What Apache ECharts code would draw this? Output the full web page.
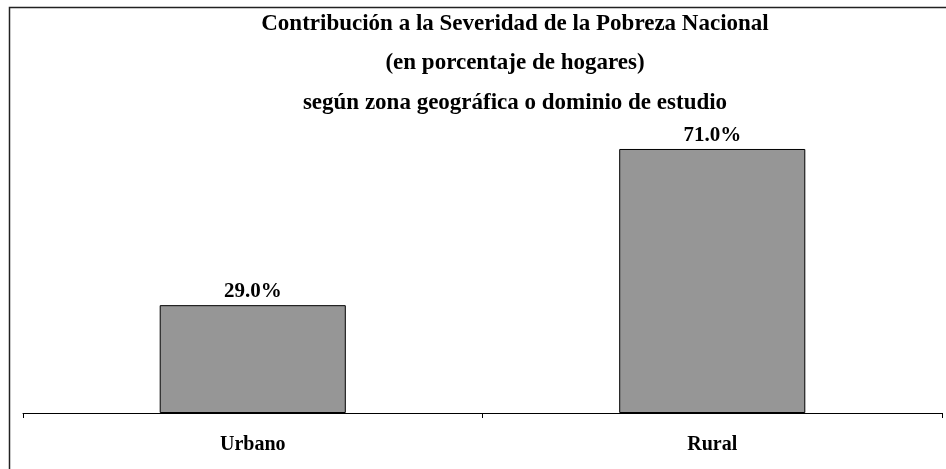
<!DOCTYPE html>
<html>
<head>
<meta charset="utf-8">
<script src="https://cdn.jsdelivr.net/npm/echarts@6/dist/echarts.min.js"></script>
<style>
  html, body {margin: 0; padding: 0; background: #fff;}
  #chart {width: 946px; height: 469px;}
</style>
</head>
<body>
<div id="chart"></div>
<script>
// datos
const categorias = ['Urbano', 'Rural'];
const valores = [29.0, 71.0];
const tituloLineas = [
    'Contribución a la Severidad de la Pobreza Nacional',
    '(en porcentaje de hogares)',
    'según zona geográfica o dominio de estudio'
];

const serif = "'Liberation Serif', 'Times New Roman', serif";

var myChart = echarts.init(document.getElementById('chart'));
myChart.setOption({
    animation: false,
    title: {
        text: tituloLineas.join('\n'),
        left: 515,
        top: 4,
        textAlign: 'center',
        padding: 0,
        textStyle: {
            fontFamily: serif,
            fontWeight: 'bold',
            fontSize: 23,
            lineHeight: 39.5,
            color: '#000'
        }
    },
    graphic: [{
        type: 'rect',
        shape: {x: 9.5, y: 7.5, width: 960, height: 480},
        style: {fill: 'none', stroke: '#222', lineWidth: 1.5},
        silent: true
    }],
    grid: {
        left: 23,
        right: 4,
        top: 115.5,
        bottom: 56,
        containLabel: false
    },
    xAxis: {
        type: 'category',
        data: categorias,
        axisLine: {lineStyle: {color: '#000', width: 1}},
        axisTick: {show: true, length: 5, lineStyle: {color: '#000'}},
        axisLabel: {
            margin: 22,
            fontFamily: serif,
            fontWeight: 'bold',
            fontSize: 20,
            color: '#000'
        }
    },
    yAxis: {
        type: 'value',
        min: 0,
        max: 80,
        show: false,
        splitLine: {show: false}
    },
    series: [{
        type: 'bar',
        data: valores,
        barWidth: '40.5%',
        itemStyle: {color: '#969696', borderColor: '#000', borderWidth: 1},
        label: {
            show: true,
            position: 'top',
            distance: 3,
            formatter: p => p.value.toFixed(1) + '%',
            fontFamily: serif,
            fontWeight: 'bold',
            fontSize: 21,
            color: '#000'
        }
    }]
});
</script>
</body>
</html>
